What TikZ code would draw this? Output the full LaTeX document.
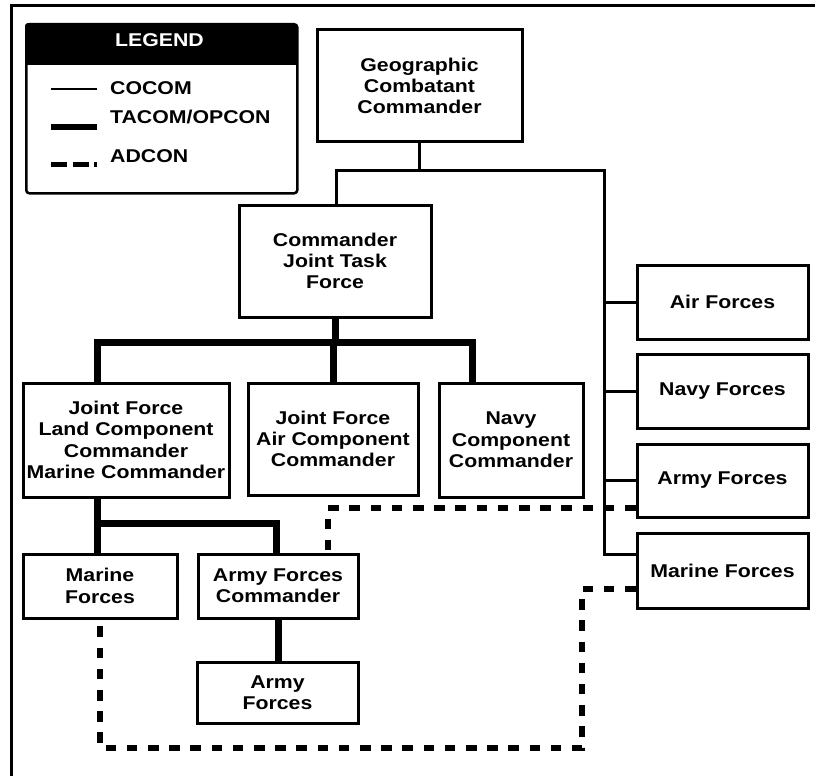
\documentclass[tikz,border=0pt]{standalone}
\usepackage{fontspec}
\newfontfamily\lab[FakeStretch=1.15]{Liberation Sans}
\begin{document}
\begin{tikzpicture}[x=1pt,y=-1pt,
  lbl/.style={font=\lab\bfseries\fontsize{18.5}{21.3}\selectfont, inner sep=0pt},
  box/.style={lbl, draw, line width=3pt, align=center, anchor=center},
  cocom/.style={line width=3pt},
  tacom/.style={line width=7pt},
  adcon/.style={line width=6pt, dash pattern=on 10.5pt off 10.7pt},
]
\useasboundingbox (0,0) rectangle (815,776);
% frame
\draw[line width=3pt] (815,6) -- (11,6) -- (11,776);

% legend
\begin{scope}
  \clip[rounded corners=3pt] (25,23) rectangle (296,192);
  \fill (25,23) rectangle (296,65);
\end{scope}
\node[draw, line width=2.5pt, rounded corners=3pt, minimum width=271pt, minimum height=169pt, anchor=north west, inner sep=0pt] (legend) at (25,23) {};
\node[lbl, text=white, anchor=base] (legtitle) at (159.5,46.5) {LEGEND};
\coordinate (l1a) at (51,89); \coordinate (l1b) at (97,89);
\coordinate (l2a) at (51,127); \coordinate (l2b) at (97,127);
\coordinate (l3a) at (51,164); \coordinate (l3b) at (97,164);
\draw[line width=2pt] (l1a) -- (l1b);
\draw[line width=6pt] (l2a) -- (l2b);
\draw[line width=5pt, dash pattern=on 16pt off 5.5pt] (l3a) -- (l3b);
\node[lbl, anchor=base west] (lt1) at (110,95) {COCOM};
\node[lbl, anchor=base west] (lt2) at (110,124) {TACOM/OPCON};
\node[lbl, anchor=base west] (lt3) at (110,162) {ADCON};

% boxes
\node[box, minimum width=205pt, minimum height=112pt] (gcc) at (419.5,86) {Geographic\\Combatant\\Commander};
\node[box, minimum width=192pt, minimum height=112pt] (cjtf) at (335,261) {Commander\\Joint Task\\Force};
\node[box, minimum width=206pt, minimum height=114pt] (jflcc) at (126,440) {Joint Force\\Land Component\\Commander\\Marine Commander};
\node[box, minimum width=170pt, minimum height=112pt] (jfacc) at (333,439) {Joint Force\\Air Component\\Commander};
\node[box, minimum width=144pt, minimum height=114pt] (ncc) at (511,440) {Navy\\Component\\Commander};

\node[box, minimum width=171pt, minimum height=74pt] (airR) at (722.5,302) {Air Forces};
\node[box, minimum width=171pt, minimum height=74pt] (navyR) at (722.5,391) {Navy Forces};
\node[box, minimum width=171pt, minimum height=73pt] (armyR) at (722.5,480.5) {Army Forces};
\node[box, minimum width=171pt, minimum height=75pt] (marR) at (722.5,570.5) {Marine Forces};

\node[box, minimum width=154pt, minimum height=64pt] (marL) at (100,586) {Marine\\Forces};
\node[box, minimum width=160pt, minimum height=64pt] (afc) at (278,586) {Army Forces\\Commander};
\node[box, minimum width=161pt, minimum height=61pt] (armyL) at (277.5,692.5) {Army\\Forces};

% COCOM
\coordinate (c1) at (336,170);
\coordinate (c2) at (604,170);
\coordinate (c3) at (604,554);
\draw[cocom] (gcc.south) -- (gcc.south |- c1);
\draw[cocom] (cjtf.north -| c1) -- (c1) -- (c2) -- (c3) -- (marR.west |- c3);
\draw[cocom] (c2 |- airR.west) -- (airR.west);
\draw[cocom] (c2 |- navyR.west) -- (navyR.west);
\draw[cocom] (c2 |- armyR.west) -- (armyR.west);

% TACOM/OPCON
\coordinate (b1) at (97,342);
\coordinate (b2) at (472,342);
\draw[tacom] (cjtf.south) -- (cjtf.south |- b1);
\draw[tacom] (jflcc.north -| b1) -- (b1) -- (b2) -- (ncc.north -| b2);
\draw[tacom] (jfacc.north) -- (jfacc.north |- b1);
\coordinate (b3) at (97,523);
\coordinate (b4) at (276,523);
\draw[tacom] (jflcc.south -| b3) -- (marL.north -| b3);
\draw[tacom] (b3) -- (b4) -- (afc.north -| b4);
\draw[tacom] (afc.south) -- (afc.south |- armyL.north);

% ADCON
\coordinate (d1) at (328,508);
\draw[adcon] (armyR.west |- d1) -- (d1) -- (afc.north -| d1);
\coordinate (d2) at (582,589);
\coordinate (d3) at (582,748);
\coordinate (d4) at (100,748);
\draw[adcon] (marR.west |- d2) -- (d2) -- (d3) -- (d4) -- (marL.south);
\end{tikzpicture}
\end{document}
